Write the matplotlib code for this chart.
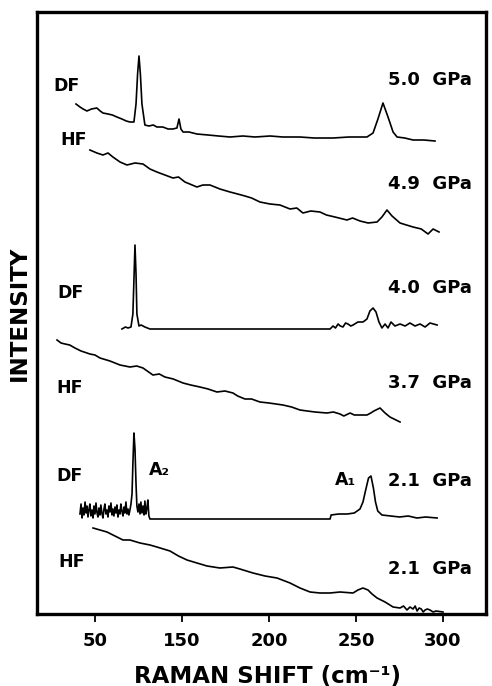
import matplotlib.pyplot as plt

# Raman spectra, intensity in arbitrary units (traces stacked by offset as in the figure)
df50_x = [89.1, 91.4, 93.2, 95.4, 98.0, 101.1, 103.0, 104.6, 107.5, 110.0, 112.6, 115.5, 118.0, 120.1,
          122.4, 123.6, 124.5, 125.3, 126.1, 127.0, 128.7, 131.0, 133.5, 135.6, 139.0, 142.0, 144.8,
          147.1, 148.3, 149.4, 150.6, 154.0, 158.6, 165.0, 171.0, 177.6, 185.0, 192.0, 200.6, 208.0,
          217.8, 226.0, 236.8, 246.0, 256.3, 259.8, 262.6, 265.5, 268.4, 271.3, 273.6, 278.0, 282.8,
          289.0, 295.4]
df50_y = [510, 507, 505, 503, 505, 506, 503, 501, 500, 499, 497, 495, 493, 492,
          492, 510, 540, 558, 540, 510, 489, 488, 489, 487, 487, 485, 485,
          486, 495, 485, 482, 482, 480, 479, 478, 477, 478, 477, 478, 477,
          477, 476, 476, 477, 477, 481, 495, 511, 497, 482, 477, 476, 474,
          474, 473]

hf49_x = [97.1, 101.1, 104.6, 107.5, 110.3, 114.4, 118.4, 123.0, 127.6, 131.6, 135.6, 140.2, 144.8,
          148.0, 151.7, 158.6, 162.0, 166.1, 171.8, 177.6, 182.0, 186.2, 190.0, 194.8, 200.6, 206.3,
          212.1, 216.0, 219.5, 224.0, 229.3, 233.0, 237.9, 244.8, 248.0, 252.3, 257.0, 262.1, 264.9,
          267.8, 270.7, 275.3, 279.0, 282.8, 287.5, 291.4, 294.3, 297.7]
hf49_y = [464, 461, 459, 461, 457, 452, 449, 451, 450, 445, 442, 439, 436,
          437, 432, 427, 429, 429, 425, 422, 420, 418, 416, 412, 410, 409,
          405, 406, 401, 403, 402, 399, 397, 394, 396, 393, 391, 392, 397,
          404, 398, 391, 389, 387, 385, 380, 385, 382]

df40_x = [115.5, 117.5, 119.0, 120.7, 121.8, 122.5, 123.0, 123.6, 124.1, 125.3, 126.5, 128.7, 131.6,
          235.1, 236.8, 238.2, 239.7, 241.0, 242.5, 244.0, 245.4, 247.0, 248.3, 251.1, 254.0, 256.3,
          258.0, 259.8, 261.5, 263.2, 264.9, 266.7, 268.4, 270.1, 272.4, 275.3, 278.2, 281.0, 283.9,
          286.8, 289.7, 292.5, 296.6]
df40_y = [285, 287, 286, 287, 300, 340, 369, 340, 300, 288, 289, 287, 285,
          285, 288, 286, 290, 288, 287, 291, 290, 288, 289, 292, 292, 295,
          303, 306, 302, 292, 286, 290, 286, 292, 288, 290, 288, 291, 288,
          290, 287, 291, 289]

hf37_x = [78.2, 80.5, 82.8, 85.5, 88.5, 92.0, 97.1, 100.0, 102.9, 108.6, 114.4, 120.1, 124.0, 127.6,
          133.3, 137.0, 140.2, 145.0, 150.6, 155.0, 160.3, 165.0, 170.1, 174.7, 179.3, 182.0, 186.2,
          190.0, 194.8, 200.0, 204.0, 208.0, 213.0, 217.8, 222.0, 226.4, 233.3, 237.0, 240.8, 243.0,
          246.6, 249.0, 252.3, 256.3, 258.5, 260.3, 263.8, 266.7, 269.5, 273.0, 275.3]
hf37_y = [274, 271, 270, 269, 266, 263, 260, 259, 256, 253, 249, 247, 248, 246,
          239, 240, 237, 235, 231, 229, 227, 225, 222, 223, 221, 218, 215,
          215, 212, 211, 210, 209, 207, 204, 203, 202, 201, 202, 200, 198,
          201, 199, 199, 199, 201, 203, 206, 201, 197, 194, 192]

df21_x = [91.4, 92.0, 92.6, 93.1, 93.7, 94.3, 94.9, 95.4, 96.0, 96.6, 97.1, 97.7, 98.3, 98.9, 99.4,
          100.0, 100.6, 101.1, 101.7, 102.3, 102.9, 103.4, 104.0, 104.6, 105.2, 105.7, 106.3, 106.9,
          107.5, 108.0, 108.6, 109.2, 109.8, 110.3, 110.9, 111.5, 112.1, 112.6, 113.2, 113.8, 114.4,
          114.9, 115.5, 116.1, 116.7, 117.2, 117.8, 118.4, 119.0, 119.5, 120.1, 120.7, 121.3, 121.8,
          122.4, 123.0, 123.6, 124.1, 124.7, 125.3, 125.9, 126.4, 127.0, 127.6, 128.2, 128.7, 129.3,
          129.9, 130.4, 131.0, 131.6, 235.1, 235.7, 240.0, 245.0, 249.0, 252.3, 254.0, 255.7, 257.2,
          258.6, 260.0, 261.2, 262.5, 264.9, 270.0, 275.0, 280.0, 285.0, 290.0, 296.6]
df21_y = [100, 110, 96, 106, 99, 112, 101, 108, 97, 105, 110, 98, 104, 96, 108,
          100, 111, 102, 97, 106, 99, 109, 101, 96, 105, 110, 100, 104,
          97, 108, 102, 111, 99, 105, 98, 107, 101, 109, 97, 104, 100,
          110, 103, 98, 107, 101, 112, 100, 105, 99, 104, 110, 120, 150,
          181, 165, 130, 108, 102, 110, 100, 112, 101, 108, 99, 113, 100,
          106, 114, 98, 95, 95, 99, 100, 100, 101, 105, 112, 125, 136,
          138, 126, 112, 103, 99, 98, 97, 98, 96, 97, 96]

hf21_x = [98.9, 102.9, 106.9, 111.5, 116.1, 120.1, 125.9, 131.6, 135.6, 143.1, 148.0, 152.9, 158.6,
          164.4, 171.8, 179.3, 183.3, 190.8, 197.7, 204.6, 212.1, 217.8, 223.6, 229.3, 235.1, 240.8,
          248.3, 251.1, 254.0, 256.9, 259.2, 262.1, 266.7, 271.3, 275.3, 277.3, 279.3, 281.0, 282.8,
          284.0, 285.1, 286.3, 287.5, 288.6, 289.7, 291.0, 292.5, 294.3, 296.0, 300.0]
hf21_y = [86, 84, 82, 78, 74, 74, 71, 69, 67, 63, 58, 54, 51,
          48, 46, 47, 45, 41, 38, 36, 31, 26, 22, 21, 21, 22,
          21, 24, 26, 24, 20, 16, 12, 7, 6, 8, 4, 7, 5,
          8, 3, 6, 5, 2, 4, 5, 4, 2, 3, 2]

traces = [(df50_x, df50_y), (hf49_x, hf49_y), (df40_x, df40_y),
          (hf37_x, hf37_y), (df21_x, df21_y), (hf21_x, hf21_y)]

film_labels = ["DF", "HF", "DF", "HF", "DF", "HF"]
film_pos = [(75.9, 528), (79.9, 474), (78.2, 321), (77.6, 226), (77.6, 138), (78.7, 52)]
pressure_labels = ["5.0  GPa", "4.9  GPa", "4.0  GPa", "3.7  GPa", "2.1  GPa", "2.1  GPa"]
pressure_y = [534, 430, 326, 231, 133, 45]

tick_pos = [100, 150, 200, 250, 300]
tick_labels = ["50", "150", "200", "250", "300"]

plt.rcParams['font.family'] = ['DejaVu Sans']
fig = plt.figure(figsize=(4.92, 6.86), dpi=100)
ax = fig.add_axes([37 / 492, 1 - 614 / 686, 449 / 492, 602 / 686])

for x, y in traces:
    ax.plot(x, y, color='black', lw=1.2)

for lab, (tx, ty) in zip(film_labels, film_pos):
    ax.text(tx, ty, lab, fontsize=12.5, fontweight='bold', ha='left', va='center')
for lab, ty in zip(pressure_labels, pressure_y):
    ax.text(316.5, ty, lab, fontsize=13, fontweight='bold', ha='right', va='center')

ax.text(131.0, 144, "A\u2082", fontsize=12.5, fontweight='bold', ha='left', va='center')
ax.text(237.9, 134, "A\u2081", fontsize=12.5, fontweight='bold', ha='left', va='center')

ax.set_xlim(66.7, 324.7)
ax.set_ylim(0, 602)
ax.set_xticks(tick_pos)
ax.set_xticklabels(tick_labels, fontsize=13, fontweight='bold')
ax.set_yticks([])
ax.tick_params(axis='x', direction='out', length=6, width=1.3, pad=7)
for sp in ax.spines.values():
    sp.set_linewidth(2.4)

fig.text(267.5 / 492, 1 - 676 / 686, "RAMAN SHIFT (cm\u207b\u00b9)", fontsize=16.5,
         fontweight='bold', ha='center', va='center')
fig.text(19.5 / 492, 1 - 313 / 686, "INTENSITY", fontsize=16.5, fontweight='bold',
         rotation=90, ha='center', va='center')

fig.savefig("out.png", dpi=100)
